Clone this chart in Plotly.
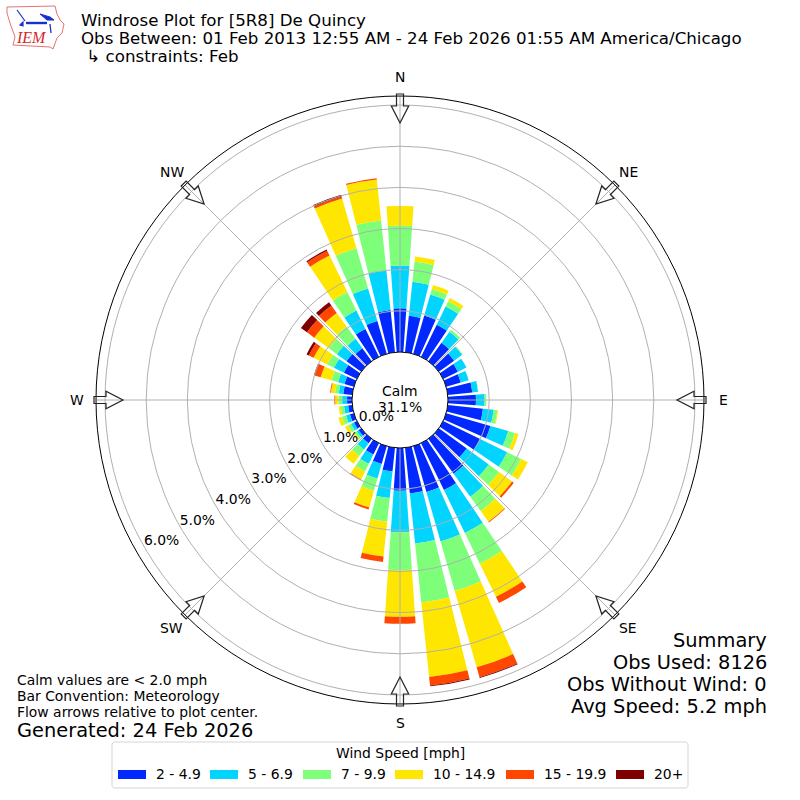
import plotly.graph_objects as go
import math

directions = list(range(0, 360, 10))
speed_labels = ["2 - 4.9", "5 - 6.9", "7 - 9.9", "10 - 14.9", "15 - 19.9", "20+"]
speed_colors = ["#0028ff", "#00d4ff", "#7dff7a", "#ffe600", "#ff4700", "#7f0000"]

s_2_5 = [1.06,.89,.97,.87,.55,.46,.40,.37,.60,.68,.86,1.12,1.00,.84,1.05,1.27,1.16,1.12,1.04,.58,.45,.31,.13,.08,.08,.10,.10,.12,.22,.24,.35,.44,.39,.75,.83,1.03]
s_5_7 = [1.04,.83,.53,.49,.33,.24,.23,.20,.14,.21,.26,.45,.73,.66,.69,1.16,1.25,1.22,1.01,.65,.37,.25,.19,.06,.08,.10,.10,.12,.11,.16,.27,.29,.28,.50,.82,.97]
s_7_10 = [.97,.49,.14,.14,.06,.02,0,0,.01,.04,.09,.17,.38,.31,.43,.83,1.25,1.44,.92,.58,.31,.21,.19,.06,.08,.10,.08,.09,.09,.17,.18,.25,.37,.50,1.02,1.22]
s_10_15 = [.48,.13,.10,.09,0,0,0,0,0,0,.02,.09,.18,.39,.32,.89,1.93,1.82,1.13,.85,.42,.21,.24,.04,.08,.09,.05,.08,.10,.27,.37,.43,.41,.99,1.26,1.00]
s_15_20 = [0,0,0,0,0,0,0,0,0,0,0,0,0,.05,.02,.17,.25,.21,.17,.13,.05,.02,0,0,0,0,0,.02,.02,.15,.13,.22,.22,.13,.05,.03]
s_20p = [0,0,0,0,0,0,0,0,0,0,0,0,0,0,0,0,.02,.02,0,0,0,0,0,0,0,0,0,0,0,.02,.06,.18,.10,.03,.04,0]
speed_series = [s_2_5, s_5_7, s_7_10, s_10_15, s_15_20, s_20p]

radial_ticks = [0, 1, 2, 3, 4, 5, 6]
compass_angles = [0, 45, 90, 135, 180, 225, 270, 315]
compass_labels = ["N", "NE", "E", "SE", "S", "SW", "W", "NW"]

title_lines = ["Windrose Plot for [5R8] De Quincy",
               "Obs Between: 01 Feb 2013 12:55 AM - 24 Feb 2026 01:55 AM America/Chicago",
               " ↳ constraints: Feb"]
summary_lines = ["Summary", "Obs Used: 8126", "Obs Without Wind: 0", "Avg Speed: 5.2 mph"]
note_lines = ["Calm values are < 2.0 mph", "Bar Convention: Meteorology", "Flow arrows relative to plot center."]
generated = "Generated: 24 Feb 2026"
legend_title = "Wind Speed [mph]"

FONT = "DejaVu Sans"

def px(x):
    return x / 800

def py(y):
    return 1 - y / 800

fig = go.Figure()

for name, color, vals in zip(speed_labels, speed_colors, speed_series):
    fig.add_trace(go.Barpolar(r=vals, theta=directions, width=8, name=name,
                              marker=dict(color=color, line=dict(width=0)), showlegend=False,
                              subplot="polar", hoverinfo="skip"))

fig.add_trace(go.Scatterpolar(r=[None], theta=[None], mode="lines", showlegend=False, subplot="polar2"))

fig.add_trace(go.Scatterpolar(r=[v - 0.42 for v in radial_ticks], theta=[240] * len(radial_ticks),
                              text=[f"{v:.1f}%" for v in radial_ticks], mode="text",
                              textposition="middle center", showlegend=False,
                              textfont=dict(family=FONT, size=13.9, color="black"),
                              subplot="polar3", hoverinfo="skip"))

domain = dict(x=[px(96), px(704)], y=[py(704), py(96)])
label_domain = dict(x=[px(98), px(706)], y=[py(707), py(99)])
fig.update_layout(
    width=800, height=800, margin=dict(l=0, r=0, t=0, b=0), paper_bgcolor="white", showlegend=False,
    font=dict(family=FONT, size=13.9, color="black"),
    polar=dict(domain=domain, hole=48 / 304, bgcolor="white", barmode="stack",
               radialaxis=dict(range=[0, 6.22], visible=False, showgrid=False),
               angularaxis=dict(rotation=90, direction="clockwise", showgrid=False, showline=False,
                                ticks="", showticklabels=False)),
    polar2=dict(domain=domain, hole=48 / 304, bgcolor="rgba(0,0,0,0)",
                radialaxis=dict(range=[0, 6.22], tickvals=radial_ticks, showticklabels=False, ticks="",
                                showline=False, showgrid=True, gridcolor="#b0b0b0", gridwidth=1),
                angularaxis=dict(rotation=90, direction="clockwise", tickvals=compass_angles,
                                 showgrid=True, gridcolor="#b0b0b0", gridwidth=1, showticklabels=False,
                                 showline=True, linecolor="black", linewidth=1, ticks="")),
    polar3=dict(domain=label_domain, bgcolor="rgba(0,0,0,0)",
                radialaxis=dict(range=[-1.135, 6.22], visible=False, showgrid=False),
                angularaxis=dict(rotation=90, direction="clockwise", showgrid=False, showline=False,
                                 ticks="", showticklabels=False)),
)

annotations = []

def text(x, y, s, size, anchor="left", color="black", family=FONT):
    annotations.append(dict(x=px(x), y=py(y), xref="paper", yref="paper", text=s, showarrow=False,
                            xanchor=anchor, yanchor="middle", align=anchor, borderpad=0,
                            font=dict(family=family, size=size, color=color)))

for y, s in zip([20, 39, 56], title_lines):
    text(80, y, s.replace(" ↳", "&nbsp;↳"), 16.67)
for y, s in zip([640, 662, 684, 706], summary_lines):
    text(768, y, s, 19.4, anchor="right")
for y, s in zip([680, 696, 712], note_lines):
    text(16, y, s.replace("<", "&lt;"), 13.9)
text(16, 730, generated, 19.4)
text(400, 391, "Calm", 13.9, anchor="center")
text(400, 407, "31.1%", 13.9, anchor="center")
text(31, 38, "<i>IEM</i>", 16, anchor="center", color="#d62728", family="Liberation Serif")
for a, lab in zip(compass_angles, compass_labels):
    b = math.radians(a)
    text(400 + 323 * math.sin(b), 400 - 323 * math.cos(b), lab, 13.9, anchor="center")

# legend text
text(400, 753, legend_title, 13.9, anchor="center")
legend_swatch_x = [118, 210, 303, 395, 506, 616]
for x, name in zip(legend_swatch_x, speed_labels):
    text(x + 37, 774, name, 13.9)

shapes = []

def path(points, color, width, closed=False, fill=None, layer="above"):
    d = "M" + " L".join(f"{px(x):.5f},{py(y):.5f}" for x, y in points) + (" Z" if closed else "")
    shapes.append(dict(type="path", path=d, xref="paper", yref="paper", layer=layer,
                       line=dict(color=color, width=width), fillcolor=fill or "rgba(0,0,0,0)"))

arrow = [(306, -3.5), (294, -3.5), (294, -8.7), (277, 0), (294, 8.7), (294, 3.5), (306, 3.5)]
for a in compass_angles:
    b = math.radians(a)
    pts = [(400 + r * math.sin(b) + o * math.cos(b), 400 - r * math.cos(b) + o * math.sin(b)) for r, o in arrow]
    path(pts, "#222222", 1.2, closed=True)

# legend frame and swatches
path([(114, 742), (686, 742), (688, 744), (688, 786), (686, 788), (114, 788), (112, 786), (112, 744)],
     "#d5d5d5", 1, closed=True, fill="white")
for x, color in zip(legend_swatch_x, speed_colors):
    path([(x, 770), (x + 28, 770), (x + 28, 779), (x, 779)], color, 0, closed=True, fill=color)

# IEM logo
path([(7, 7), (55, 6), (57, 14), (60, 20), (64, 24), (62, 33), (57, 38), (53, 49), (50, 47), (13, 45),
      (15, 37), (10, 23), (7, 13)], "#e57373", 1, closed=True)
path([(26, 23), (47, 23)], "#1a2fd0", 2.4)
path([(25, 21), (17, 10)], "#1a2fd0", 1.2)
path([(40, 14), (50, 17), (54, 20), (47, 20)], "#1a2fd0", 1, closed=True, fill="#1a2fd0")
path([(50, 24), (51, 33)], "#1a2fd0", 1.3)
path([(20, 25), (23, 22), (23, 26)], "#1a2fd0", 1.2, closed=True, fill="#1a2fd0")

fig.update_layout(annotations=annotations, shapes=shapes)

fig.write_html("out.html", post_script="document.body.style.margin='0';",
               config={"displayModeBar": False})
